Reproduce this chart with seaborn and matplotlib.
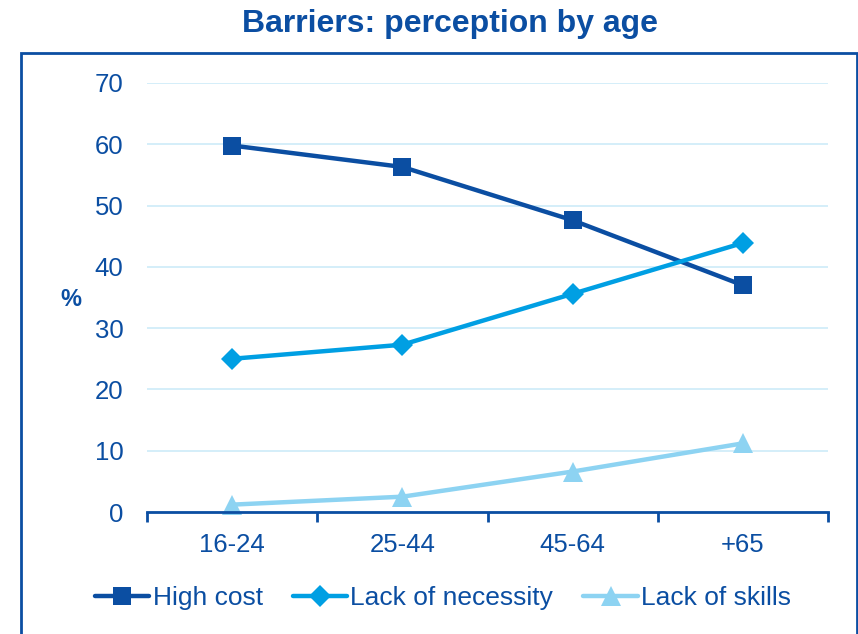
import matplotlib
matplotlib.use("Agg")
import matplotlib.pyplot as plt
import seaborn as sns
import pandas as pd
from matplotlib.patches import Rectangle

# data
ages = ["16-24", "25-44", "45-64", "+65"]
high_cost = [59.8, 56.3, 47.6, 37.0]
lack_necessity = [25.0, 27.3, 35.6, 43.9]
lack_skills = [1.2, 2.5, 6.6, 11.2]

series_names = ["High cost", "Lack of necessity", "Lack of skills"]
colors = ["#0B4EA2", "#009FE3", "#8DD3F2"]
markers = ["s", "D", "^"]
marker_sizes = [13, 11, 14]
text_color = "#0B4EA2"

df = pd.DataFrame({
    "Age": ages * 3,
    "Value": high_cost + lack_necessity + lack_skills,
    "Series": [s for s in series_names for _ in ages],
})

sns.set_theme(style="white")
plt.rcParams["font.family"] = ["Liberation Sans", "DejaVu Sans"]

fig = plt.figure(figsize=(8.58, 6.34), dpi=100)
ax = fig.add_axes([147 / 858, 1 - 512 / 634, (828 - 147) / 858, (512 - 83) / 634])

sns.lineplot(data=df, x="Age", y="Value", hue="Series", style="Series",
             palette=colors, markers=dict(zip(series_names, markers)),
             dashes=False, sort=False, linewidth=3.2, markersize=13,
             markeredgewidth=0, ax=ax, legend=True, clip_on=False)
for line, ms in zip(ax.lines, marker_sizes):
    line.set_markersize(ms)

ax.set_xlim(-0.5, 3.5)
ax.set_ylim(0, 70)
ax.set_yticks(range(0, 71, 10))
ax.yaxis.grid(True, color="#CDEBF8", linewidth=1.2)
ax.set_axisbelow(True)

# ticks between categories, labels centred
ax.set_xticks([-0.5, 0.5, 1.5, 2.5, 3.5])
ax.set_xticklabels([])
ax.set_xticks(range(4), minor=True)
ax.set_xticklabels(ages, minor=True)
ax.tick_params(axis="x", which="major", direction="out", length=7, width=2,
               color=text_color, bottom=True)
ax.tick_params(axis="x", which="minor", length=0, pad=15,
               labelsize=18.5, labelcolor=text_color)
ax.tick_params(axis="y", length=0, pad=17, labelsize=18.5, labelcolor=text_color)

for side in ["left", "right", "top"]:
    ax.spines[side].set_visible(False)
ax.spines["bottom"].set_color(text_color)
ax.spines["bottom"].set_linewidth(2)

ax.set_xlabel("")
ax.set_ylabel("%", rotation=0, fontsize=17, fontweight="bold",
              color=text_color, labelpad=0, va="center", ha="center")
ax.yaxis.set_label_coords(-0.112, (512 - 300) / 429)

# move the legend below the plot, centred on the frame
handles, labels = ax.get_legend_handles_labels()
ax.get_legend().remove()
leg = fig.legend(handles, labels, loc="center", bbox_to_anchor=(443 / 858, 1 - 598 / 634),
                 ncol=3, frameon=False, fontsize=19, handlelength=2.05,
                 handletextpad=0.12, columnspacing=1.15, labelcolor=text_color)
for h, ms in zip(leg.legend_handles, marker_sizes):
    h.set_linewidth(3.2)
    h.set_markersize(ms)

fig.text(450 / 858, 1 - 24 / 634, "Barriers: perception by age", ha="center",
         va="center", fontsize=23, fontweight="bold", color=text_color)

# chart frame, open at the bottom like the cropped original
fig.patches.append(Rectangle((21 / 858, -0.05), (857 - 21) / 858,
                             1.05 - 53 / 634, transform=fig.transFigure,
                             fill=False, edgecolor=text_color, linewidth=2))

fig.savefig("out.png", dpi=100)
